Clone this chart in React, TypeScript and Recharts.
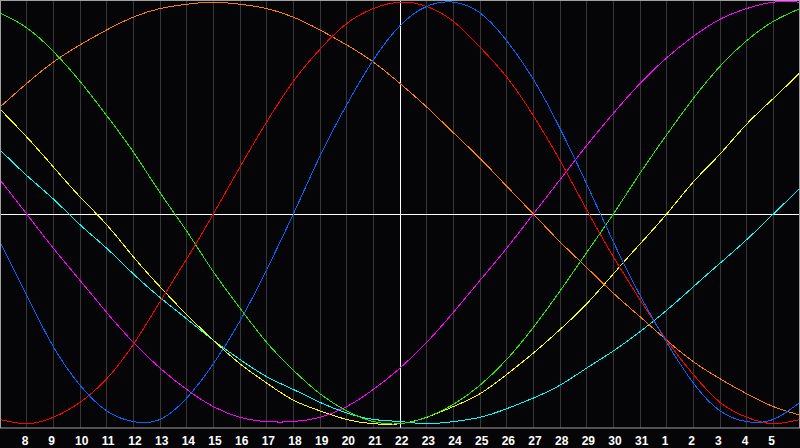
import {
  CartesianGrid,
  Line,
  LineChart,
  ReferenceLine,
  XAxis,
  YAxis,
} from "recharts";

// day numbers, 7 = left edge, 37 = right edge (month rolls over after 31)
const days = [
  7, 8, 9, 10, 11, 12, 13, 14, 15, 16, 17, 18, 19, 20, 21, 22, 23, 24, 25, 26,
  27, 28, 29, 30, 31, 32, 33, 34, 35, 36, 37,
];
const tickDays = [
  8, 9, 10, 11, 12, 13, 14, 15, 16, 17, 18, 19, 20, 21, 22, 23, 24, 25, 26, 27,
  28, 29, 30, 31, 32, 33, 34, 35, 36,
];

const physical = [
  -13, -38, -62, -80, -92, -97, -96, -86, -70, -50, -26, 0, 27, 51, 72, 88, 97,
  99, 94, 81, 63, 40, 14, -13, -38, -60, -79, -92, -97, -96, -88,
];
const emotional = [
  -96, -98, -95, -88, -77, -61, -41, -21, 0, 22, 43, 62, 77, 89, 96, 99, 97, 90,
  78, 64, 46, 25, 2, -20, -40, -59, -75, -88, -95, -98, -96,
];
const intellectual = [
  94, 87, 76, 62, 46, 29, 10, -8, -27, -44, -60, -73, -84, -92, -97, -98, -95,
  -89, -80, -68, -53, -36, -18, 0, 19, 37, 54, 69, 81, 90, 96,
];
const intuitive = [
  16, 0, -16, -31, -46, -60, -72, -82, -90, -95, -97, -97, -95, -90, -82, -72,
  -60, -46, -31, -16, 0, 16, 32, 47, 61, 73, 83, 91, 96, 99, 99,
];
const aesthetic = [
  49, 36, 22, 8, -5, -20, -34, -47, -59, -70, -79, -87, -92, -96, -98, -98, -95,
  -90, -84, -75, -65, -54, -42, -28, -14, 0, 15, 28, 42, 54, 66,
];
const awareness = [
  50, 61, 71, 79, 86, 92, 96, 98, 99, 98, 96, 92, 86, 79, 71, 61, 50, 38, 26,
  13, 0, -13, -25, -37, -48, -59, -69, -77, -84, -90, -94,
];
const spiritual = [
  30, 18, 7, -5, -16, -28, -39, -49, -59, -68, -76, -82, -88, -93, -96, -97,
  -98, -97, -95, -91, -86, -80, -72, -64, -55, -45, -34, -23, -12, 0, 12,
];

const data = days.map((day, i) => ({
  day,
  physical: physical[i],
  emotional: emotional[i],
  intellectual: intellectual[i],
  intuitive: intuitive[i],
  aesthetic: aesthetic[i],
  awareness: awareness[i],
  spiritual: spiritual[i],
}));

const series = [
  { key: "spiritual", color: "#00ffff" },
  { key: "aesthetic", color: "#ffff00" },
  { key: "intuitive", color: "#ff00ff" },
  { key: "awareness", color: "#ff8000" },
  { key: "intellectual", color: "#22ee00" },
  { key: "emotional", color: "#ff0000" },
  { key: "physical", color: "#0066ff" },
];

// labels start a few px left of their grid line, like the original
function DayTick(props: any) {
  const { x, y, payload } = props;
  const d = payload.value as number;
  return (
    <text
      x={x - 5}
      y={y}
      dy="0.71em"
      textAnchor="start"
      fill="#ffffff"
      fontSize={12}
      fontWeight="bold"
      fontFamily="Liberation Sans, Arial, sans-serif"
    >
      {d > 31 ? d - 31 : d}
    </text>
  );
}

export default function App() {
  return (
    <div
      style={{
        position: "fixed",
        left: 0,
        top: 0,
        width: 800,
        height: 448,
        background: "#050507",
      }}
    >
      <LineChart
        width={800}
        height={448}
        data={data}
        margin={{ top: 0, right: 0, left: 0, bottom: 0 }}
      >
        <CartesianGrid
          horizontal={false}
          stroke="#383838"
          strokeWidth={1}
          shapeRendering="crispEdges"
        />
        <XAxis
          dataKey="day"
          type="number"
          domain={[7, 37]}
          ticks={tickDays}
          interval={0}
          height={20}
          tickLine={false}
          axisLine={{ stroke: "#a0a0a0" }}
          tick={<DayTick />}
        />
        <YAxis hide domain={[-100, 100]} />
        <ReferenceLine x={22} stroke="#ffffff" shapeRendering="crispEdges" />
        <ReferenceLine y={0} stroke="#ffffff" shapeRendering="crispEdges" />
        {series.map((s) => (
          <Line
            key={s.key}
            type="natural"
            dataKey={s.key}
            stroke={s.color}
            strokeWidth={1}
            shapeRendering="crispEdges"
            dot={false}
            activeDot={false}
            isAnimationActive={false}
          />
        ))}
      </LineChart>
      <div
        style={{
          position: "absolute",
          left: 0,
          top: 0,
          width: 798,
          height: 427,
          border: "1px solid #a0a0a0",
          borderBottom: "none",
          pointerEvents: "none",
        }}
      />
    </div>
  );
}
